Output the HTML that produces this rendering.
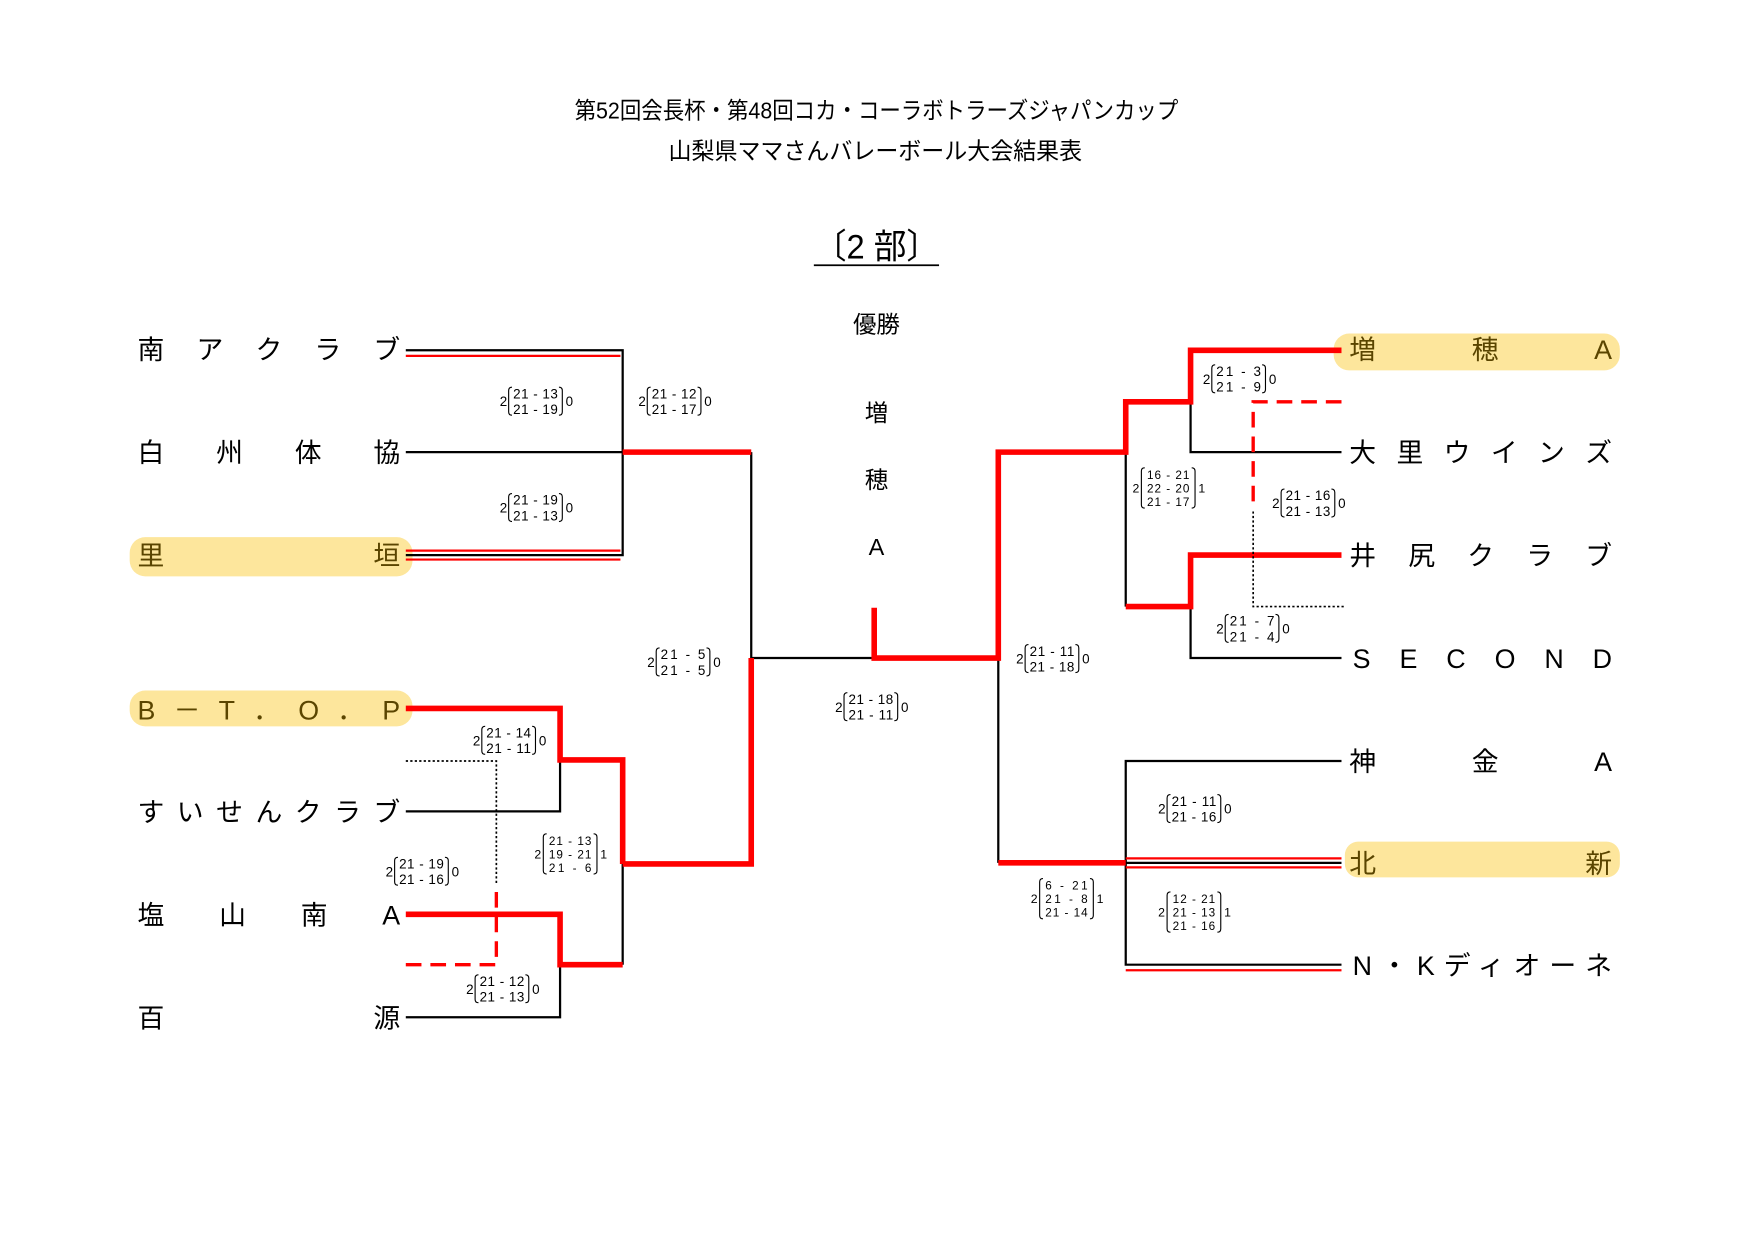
<!DOCTYPE html>
<html><head><meta charset="utf-8"><style>
html,body{margin:0;padding:0;background:#fff;}
svg{display:block;}
text{font-family:"Liberation Sans","Noto Sans CJK JP",sans-serif;fill:#000;}
.nm{font-size:24px;}
.sc{font-size:12px;}
.sc3{font-size:10.5px;}
</style></head><body>
<svg width="1754" height="1240" viewBox="0 0 1569 1108" preserveAspectRatio="none" xmlns="http://www.w3.org/2000/svg">
<defs>
<g id="b2"><path d="M11 1 q-3 0 -3 3 v19 q0 3 3 3 M53 1 q3 0 3 3 v19 q0 3 -3 3" fill="none" stroke="#000" stroke-width="1"/></g>
<g id="b3"><path d="M11 0 q-3 0 -3 3 v30 q0 3 3 3 M53 0 q3 0 3 3 v30 q0 3 -3 3" fill="none" stroke="#000" stroke-width="1"/></g>
</defs>
<text x="514" y="106" font-size="21" textLength="540" lengthAdjust="spacingAndGlyphs">第52回会長杯・第48回コカ・コーラボトラーズジャパンカップ</text>
<text x="598" y="142" font-size="21" textLength="370" lengthAdjust="spacingAndGlyphs">山梨県ママさんバレーボール大会結果表</text>
<text x="728" y="231" font-size="31" textLength="112" lengthAdjust="spacingAndGlyphs">〔2 部〕</text>
<line x1="728" y1="237" x2="840" y2="237" stroke="#000" stroke-width="1.5"/>
<text x="784" y="297" font-size="21" text-anchor="middle">優勝</text>
<text x="784" y="376" font-size="21" text-anchor="middle">増</text>
<text x="784" y="436" font-size="21" text-anchor="middle">穂</text>
<text x="784" y="496" font-size="21" text-anchor="middle">A</text>
<rect x="116" y="480" width="253" height="35" rx="14" fill="#fde69c"/>
<rect x="116" y="617" width="253" height="32" rx="14" fill="#fde69c"/>
<rect x="1193" y="298" width="256" height="33" rx="14" fill="#fde69c"/>
<rect x="1203" y="752" width="246" height="32" rx="12" fill="#fde69c"/>
<g class="nm">
<text x="123" y="321" class="nm" textLength="235" lengthAdjust="spacing">南 ア ク ラ ブ</text>
<text x="123" y="413" class="nm" textLength="235" lengthAdjust="spacing">白 州 体 協</text>
<text x="123" y="505" class="nm" style="fill:#5a4500" textLength="235" lengthAdjust="spacing">里 垣</text>
<text x="123" y="643" class="nm" style="fill:#5a4500" textLength="235" lengthAdjust="spacing">B－T．O．P</text>
<text x="123" y="734" class="nm" textLength="235" lengthAdjust="spacing">すいせんクラブ</text>
<text x="123" y="826" class="nm" textLength="235" lengthAdjust="spacing">塩 山 南 A</text>
<text x="123" y="918" class="nm" textLength="235" lengthAdjust="spacing">百 源</text>
<text x="1207" y="321" class="nm" style="fill:#5a4500" textLength="235" lengthAdjust="spacing">増 穂 A</text>
<text x="1207" y="413" class="nm" textLength="235" lengthAdjust="spacing">大 里 ウ イ ン ズ</text>
<text x="1207" y="505" class="nm" textLength="235" lengthAdjust="spacing">井 尻 ク ラ ブ</text>
<text x="1210" y="597" class="nm" textLength="232" lengthAdjust="spacing">SECOND</text>
<text x="1207" y="689" class="nm" textLength="235" lengthAdjust="spacing">神 金 A</text>
<text x="1207" y="780" class="nm" style="fill:#5a4500" textLength="235" lengthAdjust="spacing">北 新</text>
<text x="1210" y="871" class="nm" textLength="232" lengthAdjust="spacing">N・Kディオーネ</text>
</g>
<g stroke="#000" stroke-width="2" fill="none">
<path d="M363 313 H557 V497 M363 404 H557 M363 496 H557"/>
<path d="M672 404 V588 H782"/>
<path d="M363 725 H501 V679 M557 772 V862 M363 909 H501 V862"/>
<path d="M893 588 V771"/>
<path d="M1065 359 V404 H1200 M1007 404 V542 M1065 542 V588 H1200"/>
<path d="M1200 680 H1007 V862 H1200 M1007 771 H1200"/>
</g>
<g stroke="#f00" stroke-width="2" fill="none">
<path d="M363 318 H555 M363 492 H555 M363 500 H555"/>
<path d="M1007 767 H1200 M1007 775 H1200 M1007 867 H1200"/>
</g>
<g stroke="#f00" stroke-width="5" fill="none" stroke-linejoin="miter">
<path d="M557 404 H672"/>
<path d="M557 772 H672 V588"/>
<path d="M363 633 H501 V679 H557 V772"/>
<path d="M363 817 H501 V862 H557"/>
<path d="M782 543 V588 H893 V404 H1007 V359 H1065 V313 H1200"/>
<path d="M893 771 H1007"/>
<path d="M1007 542 H1065 V496 H1200"/>
</g>
<g fill="none">
<path d="M363 680 H444 V790" stroke="#000" stroke-width="1.5" stroke-dasharray="2 2"/>
<path d="M444 797 V862 H363" stroke="#f00" stroke-width="3" stroke-dasharray="14 8"/>
<path d="M1200 359 H1121 V452" stroke="#f00" stroke-width="3" stroke-dasharray="14 8"/>
<path d="M1121 457 V542 H1202" stroke="#000" stroke-width="1.5" stroke-dasharray="2 2"/>
</g>
<g class="sc">
<g transform="translate(447,345)"><text x="0" y="18">2</text><use href="#b2"/><text x="12" y="11" textLength="40">21 - 13</text><text x="12" y="25" textLength="40">21 - 19</text><text x="59" y="18">0</text></g>
<g transform="translate(571,345)"><text x="0" y="18">2</text><use href="#b2"/><text x="12" y="11" textLength="40">21 - 12</text><text x="12" y="25" textLength="40">21 - 17</text><text x="59" y="18">0</text></g>
<g transform="translate(447,440)"><text x="0" y="18">2</text><use href="#b2"/><text x="12" y="11" textLength="40">21 - 19</text><text x="12" y="25" textLength="40">21 - 13</text><text x="59" y="18">0</text></g>
<g transform="translate(579,578)"><text x="0" y="18">2</text><use href="#b2"/><text x="12" y="11" textLength="40">21 -  5</text><text x="12" y="25" textLength="40">21 -  5</text><text x="59" y="18">0</text></g>
<g transform="translate(747,618)"><text x="0" y="18">2</text><use href="#b2"/><text x="12" y="11" textLength="40">21 - 18</text><text x="12" y="25" textLength="40">21 - 11</text><text x="59" y="18">0</text></g>
<g transform="translate(423,648)"><text x="0" y="18">2</text><use href="#b2"/><text x="12" y="11" textLength="40">21 - 14</text><text x="12" y="25" textLength="40">21 - 11</text><text x="59" y="18">0</text></g>
<g transform="translate(345,765)"><text x="0" y="18">2</text><use href="#b2"/><text x="12" y="11" textLength="40">21 - 19</text><text x="12" y="25" textLength="40">21 - 16</text><text x="59" y="18">0</text></g>
<g transform="translate(417,870)"><text x="0" y="18">2</text><use href="#b2"/><text x="12" y="11" textLength="40">21 - 12</text><text x="12" y="25" textLength="40">21 - 13</text><text x="59" y="18">0</text></g>
<g transform="translate(1076,325)"><text x="0" y="18">2</text><use href="#b2"/><text x="12" y="11" textLength="40">21 -  3</text><text x="12" y="25" textLength="40">21 -  9</text><text x="59" y="18">0</text></g>
<g transform="translate(1138,436)"><text x="0" y="18">2</text><use href="#b2"/><text x="12" y="11" textLength="40">21 - 16</text><text x="12" y="25" textLength="40">21 - 13</text><text x="59" y="18">0</text></g>
<g transform="translate(1088,548)"><text x="0" y="18">2</text><use href="#b2"/><text x="12" y="11" textLength="40">21 -  7</text><text x="12" y="25" textLength="40">21 -  4</text><text x="59" y="18">0</text></g>
<g transform="translate(909,575)"><text x="0" y="18">2</text><use href="#b2"/><text x="12" y="11" textLength="40">21 - 11</text><text x="12" y="25" textLength="40">21 - 18</text><text x="59" y="18">0</text></g>
<g transform="translate(1036,709)"><text x="0" y="18">2</text><use href="#b2"/><text x="12" y="11" textLength="40">21 - 11</text><text x="12" y="25" textLength="40">21 - 16</text><text x="59" y="18">0</text></g>
</g>
<g class="sc3">
<g transform="translate(478,745)"><text x="0" y="22" font-size="11">2</text><use href="#b3"/><text x="13" y="10" textLength="38">21 - 13</text><text x="13" y="22" textLength="38">19 - 21</text><text x="13" y="34" textLength="38">21 -  6</text><text x="59" y="22" font-size="11">1</text></g>
<g transform="translate(1013,418)"><text x="0" y="22" font-size="11">2</text><use href="#b3"/><text x="13" y="10" textLength="38">16 - 21</text><text x="13" y="22" textLength="38">22 - 20</text><text x="13" y="34" textLength="38">21 - 17</text><text x="59" y="22" font-size="11">1</text></g>
<g transform="translate(922,785)"><text x="0" y="22" font-size="11">2</text><use href="#b3"/><text x="13" y="10" textLength="38"> 6 - 21</text><text x="13" y="22" textLength="38">21 -  8</text><text x="13" y="34" textLength="38">21 - 14</text><text x="59" y="22" font-size="11">1</text></g>
<g transform="translate(1036,797)"><text x="0" y="22" font-size="11">2</text><use href="#b3"/><text x="13" y="10" textLength="38">12 - 21</text><text x="13" y="22" textLength="38">21 - 13</text><text x="13" y="34" textLength="38">21 - 16</text><text x="59" y="22" font-size="11">1</text></g>
</g>
</svg>
</body></html>
